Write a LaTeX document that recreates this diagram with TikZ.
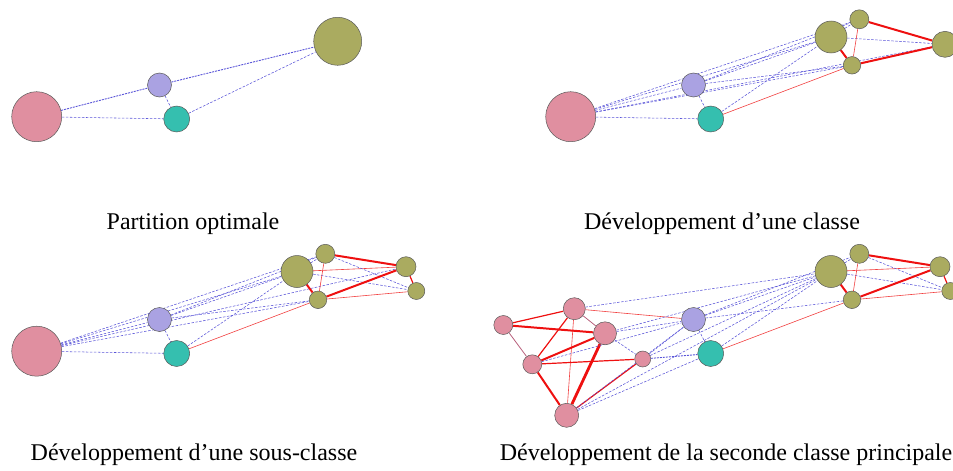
\documentclass[tikz,border=0pt]{standalone}
\usepackage{fontspec}
\setmainfont{Liberation Serif}
\usetikzlibrary{backgrounds}
\definecolor{pinkc}{HTML}{E08FA0}
\definecolor{purc}{HTML}{AAA2E2}
\definecolor{tealc}{HTML}{35BFAF}
\definecolor{olivc}{HTML}{AAAB60}
\definecolor{bluec}{HTML}{5A55D8}
\definecolor{redc}{HTML}{EE1010}
\definecolor{mauvc}{HTML}{B8607C}
\tikzset{
  nd/.style={circle, draw=black!65, line width=0.5pt, inner sep=0pt, minimum size=#1},
  pk/.style={nd=#1, fill=pinkc},
  pu/.style={nd=#1, fill=purc},
  te/.style={nd=#1, fill=tealc},
  ol/.style={nd=#1, fill=olivc},
  bl/.style={draw=bluec, dash pattern=on 2.5pt off 1.5pt, line width=0.55pt},
  bld/.style={draw=bluec, dash pattern=on 2pt off 1pt, line width=0.9pt},
  rt/.style={draw=redc!80, line width=0.6pt},
  rm/.style={draw=redc, line width=1.2pt},
  rk/.style={draw=redc, line width=2pt},
  rx/.style={draw=redc, line width=2.8pt},
  mv/.style={draw=mauvc, line width=0.8pt},
  captxt/.style={font=\fontsize{24}{27}\selectfont, anchor=base, inner sep=0pt}
}
\begin{document}
\begin{tikzpicture}[x=1pt,y=-1pt]
\useasboundingbox (0,0) rectangle (953,471);
% ---------- Panel 1 ----------
\begin{scope}[name prefix=p1-]
  \node[pk=50] (A) at (36.7,116.7) {};
  \node[pu=24] (B) at (159.5,85) {};
  \node[te=26] (C) at (176.7,119) {};
  \node[ol=48] (D) at (337.7,41.3) {};
  \begin{scope}[on background layer]
    \draw[bld] (A) -- (B);
    \draw[bl] (A) -- (C);
    \draw[bl] (B) -- (C);
    \draw[bld] (B) -- (D);
    \draw[bl] (C) -- (D);
  \end{scope}
\end{scope}
% ---------- Panel 2 ----------
\begin{scope}[shift={(534,0)}, name prefix=p2-]
  \node[pk=50] (A) at (36.7,116.7) {};
  \node[pu=24] (B) at (159.5,85) {};
  \node[te=26] (C) at (176.7,119) {};
  \node[ol=32] (D) at (297,37) {};
  \node[ol=19] (E) at (325.3,19.3) {};
  \node[ol=17.5] (F) at (318,65.3) {};
  \node[ol=26] (G) at (411,44.3) {};
  \begin{scope}[on background layer]
    \draw[bl] (A) -- (B);
    \draw[bl] (A) -- (C);
    \draw[bl] (A) -- (D);
    \draw[bl] (A) -- (E);
    \draw[bl] (A) -- (F);
    \draw[bl] (A) -- (G);
    \draw[bl] (B) -- (C);
    \draw[bl] (B) -- (D);
    \draw[bl] (B) -- (E);
    \draw[bl] (B) -- (F);
    \draw[bl] (C) -- (D);
    \draw[rt] (C) -- (F);
    \draw[bl] (D) -- (E);
    \draw[bl] (D) -- (G);
    \draw[rk] (D) -- (F);
    \draw[rt] (E) -- (F);
    \draw[rk] (E) -- (G);
    \draw[rk] (F) -- (G);
  \end{scope}
\end{scope}
% ---------- Panel 3 ----------
\begin{scope}[shift={(0,234.5)}, name prefix=p3-]
  \node[pk=50] (A) at (36.7,116.7) {};
  \node[pu=24] (B) at (159.5,85) {};
  \node[te=26] (C) at (176.7,119) {};
  \node[ol=32] (D) at (297,37) {};
  \node[ol=19] (E) at (325.3,19.3) {};
  \node[ol=17.5] (F) at (318,65.3) {};
  \node[ol=20] (G) at (406,32.2) {};
  \node[ol=17] (H) at (416.3,56.5) {};
  \begin{scope}[on background layer]
    \draw[bl] (A) -- (B);
    \draw[bl] (A) -- (C);
    \draw[bl] (A) -- (D);
    \draw[bl] (A) -- (E);
    \draw[bl] (A) -- (F);
    \draw[bl] (A) -- (G);
    \draw[bl] (B) -- (C);
    \draw[bl] (B) -- (D);
    \draw[bl] (B) -- (E);
    \draw[bl] (B) -- (F);
    \draw[bl] (C) -- (D);
    \draw[rt] (C) -- (F);
    \draw[bl] (D) -- (E);
    \draw[bl] (D) -- (H);
    \draw[rt] (D) -- (G);
    \draw[rk] (D) -- (F);
    \draw[rt] (E) -- (F);
    \draw[rk] (E) -- (G);
    \draw[bl] (E) -- (H);
    \draw[rk] (F) -- (G);
    \draw[rt] (F) -- (H);
    \draw[rm] (G) -- (H);
  \end{scope}
\end{scope}
% ---------- Panel 4 ----------
\begin{scope}[shift={(534,234.5)}, name prefix=p4-]
  \node[pu=24] (B) at (159.5,85) {};
  \node[te=26] (C) at (176.7,119) {};
  \node[ol=32] (D) at (297,37) {};
  \node[ol=19] (E) at (325.3,19.3) {};
  \node[ol=17.5] (F) at (318,65.3) {};
  \node[ol=20] (G) at (406,32.2) {};
  \node[ol=17] (H) at (416.3,56.5) {};
  \node[pk=22] (P1) at (40.3,74.2) {};
  \node[pk=19] (P2) at (-30.7,90.5) {};
  \node[pk=23] (P3) at (71,98.8) {};
  \node[pk=19] (P4) at (-1.7,129.8) {};
  \node[pk=16] (P5) at (108.7,124.5) {};
  \node[pk=24] (P6) at (32.7,180.8) {};
  \begin{scope}[on background layer]
    \draw[bl] (B) -- (C);
    \draw[bl] (B) -- (D);
    \draw[bl] (B) -- (E);
    \draw[bl] (B) -- (F);
    \draw[bl] (C) -- (D);
    \draw[rt] (C) -- (F);
    \draw[bl] (D) -- (E);
    \draw[bl] (D) -- (H);
    \draw[rt] (D) -- (G);
    \draw[rk] (D) -- (F);
    \draw[rt] (E) -- (F);
    \draw[rk] (E) -- (G);
    \draw[bl] (E) -- (H);
    \draw[rk] (F) -- (G);
    \draw[rt] (F) -- (H);
    \draw[rm] (G) -- (H);
    % pink cluster
    \draw[rm] (P1) -- (P2);
    \draw[mv] (P1) -- (P3);
    \draw[rm] (P1) -- (P4);
    \draw[rt] (P1) -- (P6);
    \draw[rt] (P1) -- (B);
    \draw[bl] (P1) -- (D);
    \draw[rk] (P2) -- (P3);
    \draw[mv] (P2) -- (P4);
    \draw[rk] (P3) -- (P4);
    \draw[rx] (P3) -- (P6);
    \draw[bl] (P3) -- (P5);
    \draw[bl] (P3) -- (B);
    \draw[bl] (P3) -- (D);
    \draw[rm] (P4) -- (P5);
    \draw[rk] (P4) -- (P6);
    \draw[bl] (P4) -- (B);
    \draw[rm] (P5) -- (P6);
    \draw[bld] (P5) -- (C);
    \draw[bl] (P5) -- (B);
    \draw[bl] (P5) -- (D);
    \draw[bl] (P6) -- (B);
    \draw[bl] (P6) -- (C);
    \draw[bl] (P6) -- (D);
  \end{scope}
\end{scope}
% ---------- Captions ----------
\node[captxt] (c1) at (193,229) {Partition optimale};
\node[captxt] (c2) at (722,229) {Développement d’une classe};
\node[captxt] (c3) at (194,460) {Développement d’une sous-classe};
\node[captxt] (c4) at (726,460) {Développement de la seconde classe principale};
\end{tikzpicture}
\end{document}
